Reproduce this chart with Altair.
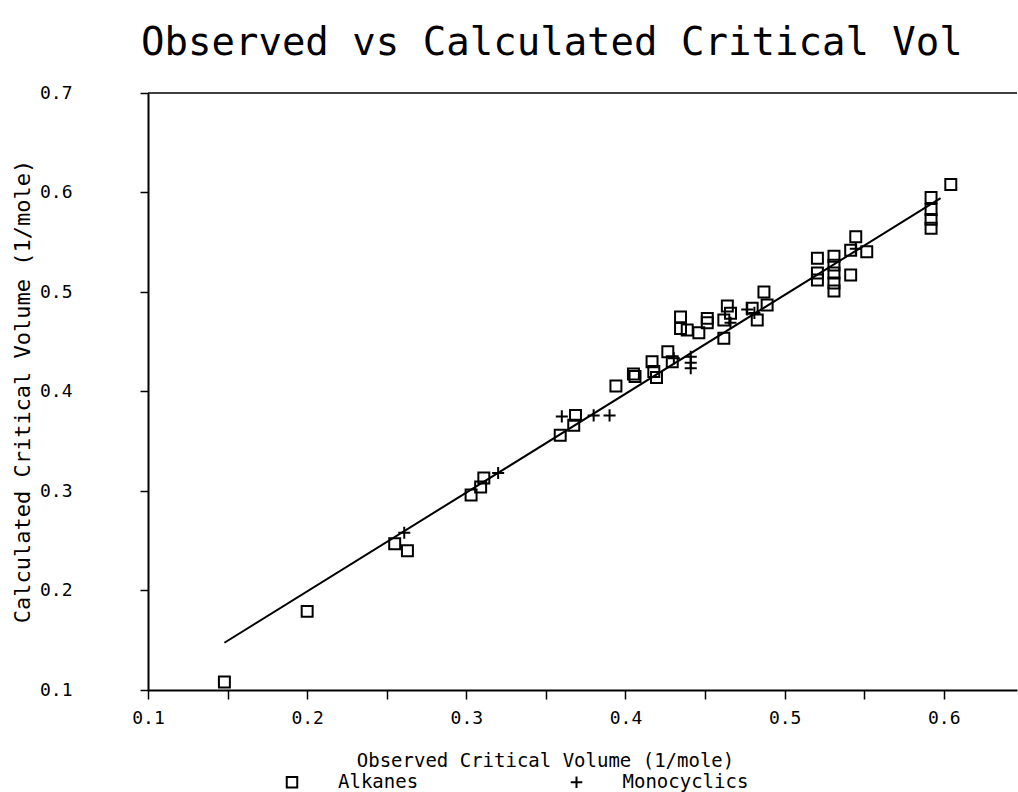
import altair as alt
import pandas as pd

# Observed vs calculated critical volumes (l/mole)
alk_x = [0.148, 0.200, 0.255, 0.263, 0.303, 0.309, 0.311, 0.359, 0.3675, 0.3686,
         0.394, 0.405, 0.406, 0.4167, 0.4178, 0.4195, 0.4266, 0.4294, 0.4346, 0.4346,
         0.4388, 0.4461, 0.4514, 0.4514, 0.4618, 0.4618, 0.464, 0.466, 0.4796, 0.4828,
         0.487, 0.489, 0.5206, 0.5206, 0.5206, 0.531, 0.531, 0.531, 0.531, 0.531,
         0.5415, 0.5415, 0.5447, 0.5516, 0.592, 0.592, 0.592, 0.592, 0.6044]
alk_y = [0.108, 0.179, 0.247, 0.240, 0.296, 0.304, 0.313, 0.356, 0.366, 0.376,
         0.4055, 0.4176, 0.415, 0.430, 0.420, 0.414, 0.440, 0.430, 0.475, 0.4634,
         0.4618, 0.459, 0.4735, 0.469, 0.4719, 0.4535, 0.486, 0.4786, 0.4836, 0.4719,
         0.500, 0.487, 0.534, 0.519, 0.512, 0.536, 0.527, 0.519, 0.509, 0.501,
         0.542, 0.517, 0.5555, 0.5405, 0.595, 0.583, 0.573, 0.564, 0.608]

mono_x = [0.261, 0.320, 0.360, 0.380, 0.390, 0.4304, 0.441, 0.441, 0.441,
          0.466, 0.4765, 0.481, 0.5447]
mono_y = [0.258, 0.318, 0.375, 0.376, 0.376, 0.4333, 0.435, 0.429, 0.4233,
          0.469, 0.4825, 0.479, 0.5435]

# fitted line end points
fit_x = [0.148, 0.598]
fit_y = [0.1475, 0.5943]

x_ticks = [0.10, 0.15, 0.20, 0.25, 0.30, 0.35, 0.40, 0.45, 0.50, 0.55, 0.60]
y_ticks = [0.1, 0.2, 0.3, 0.4, 0.5, 0.6, 0.7]
groups = ["Alkanes", "Monocyclics"]

pts = pd.DataFrame({
    "obs": alk_x + mono_x,
    "calc": alk_y + mono_y,
    "group": [groups[0]] * len(alk_x) + [groups[1]] * len(mono_x),
})
fit = pd.DataFrame({"obs": fit_x, "calc": fit_y})
top = pd.DataFrame({"calc": [y_ticks[-1]]})

MONO = "DejaVu Sans Mono"
xscale = alt.Scale(domain=[0.1, 0.646], nice=False, zero=False)
yscale = alt.Scale(domain=[0.1, 0.7], nice=False, zero=False)

x_axis = alt.Axis(
    values=x_ticks, grid=False,
    labelExpr="round(datum.value * 100) % 10 == 0 ? format(datum.value, '.1f') : ''",
    labelOverlap=False, labelFlush=False, labelFontSize=18, labelPadding=10,
    labelFont=MONO, labelColor="black",
    tickSize=9, tickColor="black", tickWidth=1.5,
    domainColor="black", domainWidth=2,
    title="Observed Critical Volume (1/mole)", titleFont=MONO, titleFontSize=19,
    titleFontWeight="normal", titleColor="black",
    titleX=397, titleY=70, titleAlign="center", titleBaseline="middle",
)
y_axis = alt.Axis(
    values=y_ticks, format=".1f", grid=False, labelOverlap=False, labelFlush=False,
    labelFontSize=18, labelPadding=68, labelFont=MONO, labelColor="black",
    tickSize=8, tickColor="black", tickWidth=1.5,
    domainColor="black", domainWidth=2,
    title="Calculated Critical Volume (1/mole)", titleFont=MONO, titleFontSize=22,
    titleFontWeight="normal", titleColor="black",
    titleX=-126, titleY=298, titleAngle=270, titleAlign="center", titleBaseline="middle",
)

frame_top = alt.Chart(top).mark_rule(color="black", strokeWidth=1.5).encode(
    y=alt.Y("calc:Q", scale=yscale)
)

line = alt.Chart(fit).mark_line(color="black", strokeWidth=2).encode(
    x=alt.X("obs:Q", scale=xscale, axis=x_axis),
    y=alt.Y("calc:Q", scale=yscale, axis=y_axis),
)

points = alt.Chart(pts).mark_point(filled=False, color="black", strokeWidth=2, size=120, opacity=1).encode(
    x=alt.X("obs:Q", scale=xscale, axis=x_axis),
    y=alt.Y("calc:Q", scale=yscale, axis=y_axis),
    shape=alt.Shape(
        "group:N",
        scale=alt.Scale(domain=groups, range=["square", "M-1.1,0H1.1M0,-1.1V1.1"]),
        legend=alt.Legend(
            orient="none", legendX=134.5, legendY=679.5, direction="horizontal",
            title=None, padding=0, columnPadding=147.5, labelOffset=36.5,
            symbolSize=110, symbolStrokeWidth=2, symbolStrokeColor="black",
            symbolFillColor="transparent", labelFont=MONO, labelFontSize=19,
            labelColor="black",
        ),
    ),
)

chart = alt.layer(frame_top, line, points).properties(
    width=869,
    height=597,
    autosize=alt.AutoSizeParams(type="none"),
    padding={"left": 148, "top": 93, "right": 1, "bottom": 102},
    background="white",
    title=alt.TitleParams(
        "Observed vs Calculated Critical Vol", anchor="start", frame="group",
        dx=-7, offset=21, font=MONO, fontSize=39, fontWeight="normal", color="black",
    ),
).configure_view(stroke=None)

chart.save("out.html", embed_options={"renderer": "svg", "actions": False})
